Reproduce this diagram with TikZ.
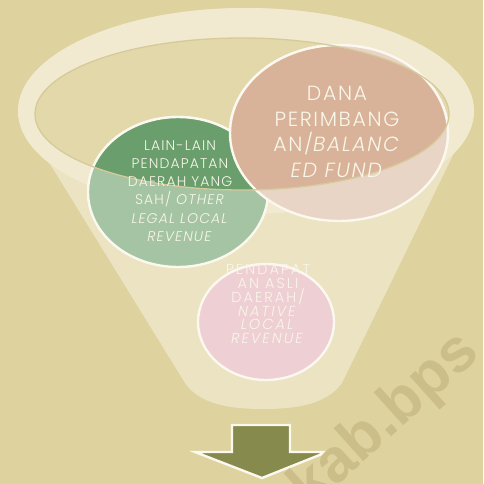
\documentclass[tikz,border=0pt]{standalone}
\usepackage{fontspec}
\setmainfont{Poppins}[UprightFont=* Light, ItalicFont=* Light Italic, LetterSpace=8]
\newfontfamily\wmfont{Liberation Sans}
\usetikzlibrary{shapes.geometric}

\definecolor{bgtan}{HTML}{DED29F}
\definecolor{conecream}{HTML}{ECE3C3}
\definecolor{ringcream}{HTML}{F1EAD0}
\definecolor{bowltan}{HTML}{E3D8A9}
\definecolor{rimline}{HTML}{D6CA9A}
\definecolor{ringwhite}{HTML}{FBF8EF}
\definecolor{textwhite}{HTML}{F9F6EA}
\definecolor{laindark}{HTML}{6A9E6D}
\definecolor{lainlight}{HTML}{A4C4A3}
\definecolor{danadark}{HTML}{D8B399}
\definecolor{danalight}{HTML}{E9D5C6}
\definecolor{padlight}{HTML}{EECFD3}
\definecolor{arrowolive}{HTML}{878A4D}
\definecolor{wmark}{HTML}{CCBE89}

\begin{document}
\begin{tikzpicture}[x=1pt, y=-1pt,
  bubble/.style={ellipse, draw=ringwhite, line width=2.4pt, inner sep=0pt},
  blurb/.style={text=textwhite, align=center, inner sep=0pt}]
 \fill[bgtan] (0,0) rectangle (483,484);
 \useasboundingbox (0,0) rectangle (483,484);

 \fill[conecream] (18,112) -- (185,383) .. controls (200,405) and (232,409) .. (263,409)
   .. controls (295,409) and (326,405) .. (342,383) -- (474,112) -- cycle;
 \fill[conecream] (246,111) ellipse [x radius=228, y radius=103];
 \fill[ringcream, even odd rule] (246,111) ellipse [x radius=228, y radius=103]
   (242,114) ellipse [x radius=207, y radius=76];
 \fill[bowltan] (242,114) ellipse [x radius=207, y radius=76];

 \node (lain) [bubble, fill=lainlight, minimum width=180, minimum height=150] at (178,192) {};
 \node (dana) [bubble, fill=danalight, minimum width=218, minimum height=176] at (339,133) {};
 \node (pad) [bubble, fill=padlight, minimum width=136, minimum height=116] at (266,322) {};
 \begin{scope}
   \clip (242,114) ellipse [x radius=207, y radius=76];
   \node [bubble, fill=laindark, minimum width=180, minimum height=150] at (lain) {};
   \node [bubble, fill=danadark, minimum width=218, minimum height=176] at (dana) {};
 \end{scope}
 \draw[rimline, line width=1.3pt] (242,114) ellipse [x radius=207, y radius=76];

 \node (lainText) [blurb, font=\fontsize{14}{18.3}\selectfont] at (180,191)
   {LAIN-LAIN\\PENDAPATAN\\DAERAH YANG\\SAH/ \textit{OTHER}\\\textit{LEGAL LOCAL}\\\textit{REVENUE}};
 \node (danaText) [blurb, font=\fontsize{20.5}{25.5}\selectfont] at (337,132)
   {DANA\\PERIMBANG\\AN/\textit{BALANC}\\\textit{ED FUND}};
 \node (padText) [blurb, font=\fontsize{14.5}{13.5}\selectfont\addfontfeature{LetterSpace=14}] at (268,304)
   {PENDAPAT\\AN ASLI\\DAERAH/\\\textit{NATIVE}\\\textit{LOCAL}\\\textit{REVENUE}};

 \draw[ringwhite, line width=2.4pt, fill=arrowolive, line join=miter]
   (232,425) -- (290,425) -- (290,452) -- (327,452) -- (262,478) -- (195,452) -- (232,452) -- cycle;

 \node (wm) [rotate=42, anchor=base west, text=wmark, inner sep=0pt,
   font=\wmfont\bfseries\fontsize{61}{61}\selectfont] at (310,510) {kab.bps};
\end{tikzpicture}
\end{document}
